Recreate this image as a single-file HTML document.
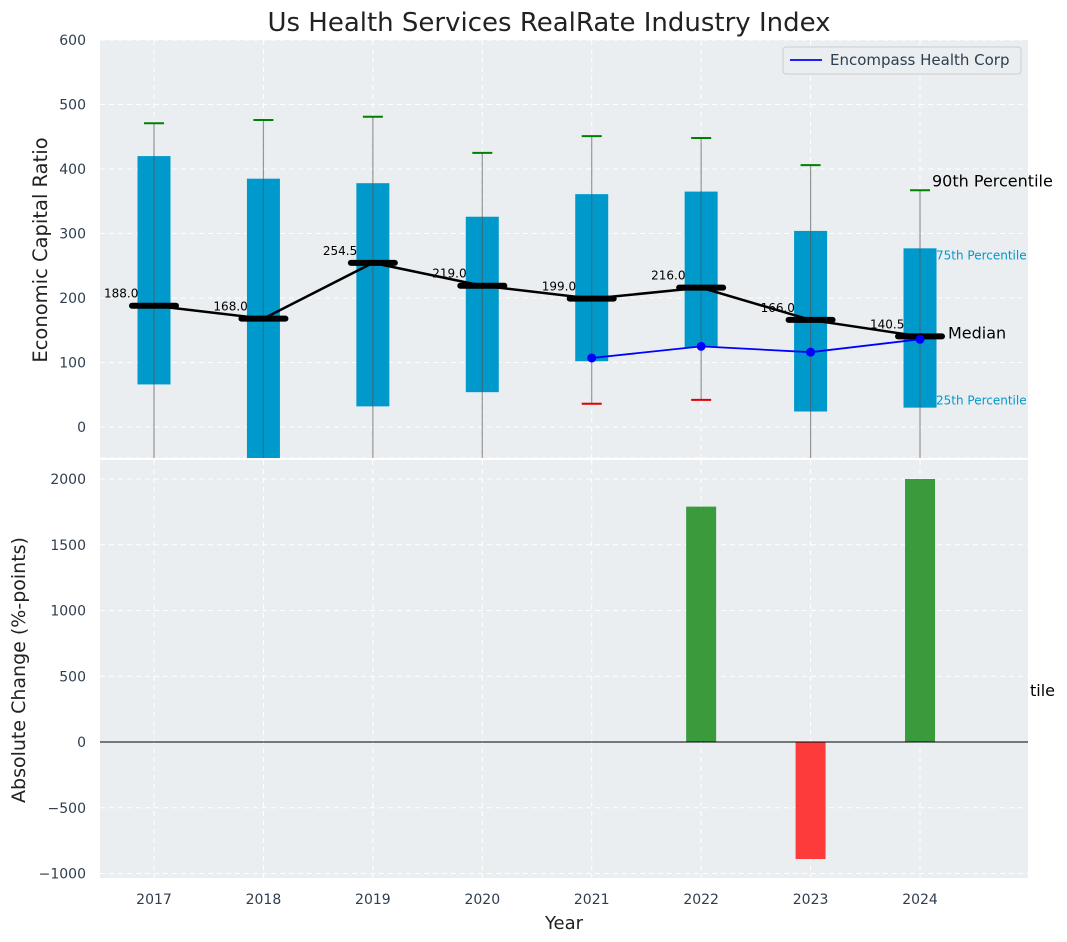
<!DOCTYPE html>
<html><head><meta charset="utf-8"><style>
body{margin:0;background:#fff;}
svg{display:block;font-family:"DejaVu Sans","Liberation Sans",sans-serif;}
</style></head><body>
<svg id="chart" width="1067" height="942" viewBox="0 0 1067 942" xmlns="http://www.w3.org/2000/svg"></svg>
<script>
const years=[2017,2018,2019,2020,2021,2022,2023,2024];
const p90=[471,476,481,425,451,448,406,367];
const p75=[420,385,378,326,361,365,304,277];
const medians=[188,168,254.5,219,199,216,166,140.5];
const p25=[66,-60,32,54,102,124,24,30];
const p10=[-100,-100,-100,-100,36,42,-100,-100];
const companyYears=[2021,2022,2023,2024];
const companyVals=[107,125,116,136];
const changeYears=[2022,2023,2024];
const changeVals=[1790,-890,2000];
const topTicks=[0,100,200,300,400,500,600];
const botTicks=[-1000,-500,0,500,1000,1500,2000];

const svg=document.getElementById('chart');
const NS='http://www.w3.org/2000/svg';
function el(tag,attrs,parent){const e=document.createElementNS(NS,tag);for(const k in attrs)e.setAttribute(k,attrs[k]);(parent||svg).appendChild(e);return e;}
const L=100,R=1028;
const x=v=>154+(v-2017)*109.43;
const yT=v=>427-v*0.645;
const yB=v=>742-v*0.1315;
const TOP0=40,TOP1=458,BOT0=460,BOT1=878;

let b=el('rect',{x:L,y:TOP0,width:R-L,height:TOP1-TOP0,fill:'#eaeef0'});

b=el('rect',{x:L,y:BOT0,width:R-L,height:BOT1-BOT0,fill:'#eaeef0'});


const defs=el('defs',{});
const c1=el('clipPath',{id:'ct'},defs);el('rect',{x:L,y:TOP0,width:R-L,height:TOP1-TOP0},c1);
const c2=el('clipPath',{id:'cb'},defs);el('rect',{x:L,y:BOT0,width:R-L,height:BOT1-BOT0},c2);
const gt=el('g',{'clip-path':'url(#ct)'});
const gb=el('g',{'clip-path':'url(#cb)'});

topTicks.forEach(t=>{el('line',{x1:L,x2:R,y1:yT(t),y2:yT(t),stroke:'#fff','stroke-dasharray':'5,4','stroke-width':1},gt);
 const tx=el('text',{x:L-14,y:yT(t)+5,'text-anchor':'end','font-size':14,fill:'#2f3e4e'});tx.textContent=t;
 });
el('line',{x1:L,x2:R,y1:yT(-48),y2:yT(-48),stroke:'#fff','stroke-dasharray':'5,4'},gt);
botTicks.forEach(t=>{el('line',{x1:L,x2:R,y1:yB(t),y2:yB(t),stroke:'#fff','stroke-dasharray':'5,4'},gb);
 const tx=el('text',{x:L-14,y:yB(t)+5,'text-anchor':'end','font-size':14,fill:'#2f3e4e'});tx.textContent=(t<0?'\u2212'+(-t):t);
 });
years.forEach(yr=>{
 el('line',{x1:x(yr),x2:x(yr),y1:TOP0,y2:TOP1,stroke:'#fff','stroke-dasharray':'5,4'},gt);
 el('line',{x1:x(yr),x2:x(yr),y1:BOT0,y2:BOT1,stroke:'#fff','stroke-dasharray':'5,4'},gb);
 const tx=el('text',{x:x(yr),y:904,'text-anchor':'middle','font-size':14,fill:'#2f3e4e'});tx.textContent=yr;
 
});

years.forEach((yr,i)=>{
 const cx=x(yr),w=33;
 const r=el('rect',{x:cx-w/2,y:yT(p75[i]),width:w,height:yT(p25[i])-yT(p75[i]),fill:'#0099cc'},gt);
 
 const wl=el('line',{x1:cx,x2:cx,y1:yT(p90[i]),y2:yT(p10[i]),stroke:'#555','stroke-opacity':0.6,'stroke-width':1.2},gt);
 
 const c90=el('line',{x1:cx-10,x2:cx+10,y1:yT(p90[i]),y2:yT(p90[i]),stroke:'#008000','stroke-width':2},gt);
 
 const c10=el('line',{x1:cx-10,x2:cx+10,y1:yT(p10[i]),y2:yT(p10[i]),stroke:'#e00000','stroke-width':2},gt);
 
});
const mp=el('polyline',{points:years.map((yr,i)=>x(yr)+','+yT(medians[i])).join(' '),fill:'none',stroke:'#000','stroke-width':2.5},gt);

years.forEach((yr,i)=>{
 const m=el('line',{x1:x(yr)-22,x2:x(yr)+22,y1:yT(medians[i]),y2:yT(medians[i]),stroke:'#000','stroke-width':6,'stroke-linecap':'round'},gt);
 
 const t=el('text',{x:x(yr)-50,y:yT(medians[i])-8,'font-size':12,fill:'#000'});t.textContent=medians[i].toFixed(1);
 
});
const cp=el('polyline',{points:companyYears.map((yr,i)=>x(yr)+','+yT(companyVals[i])).join(' '),fill:'none',stroke:'#0000ff','stroke-width':1.8},gt);

companyYears.forEach((yr,i)=>{const c=el('circle',{cx:x(yr),cy:yT(companyVals[i]),r:4.5,fill:'#0000ff'},gt);
 });

const last=years.length-1,lx=x(years[last]);
let a=el('text',{x:lx+12,y:yT(p90[last])-4,'font-size':16,fill:'#000'});a.textContent='90th Percentile';
a=el('text',{x:lx+16,y:yT(p75[last])+11,'font-size':12,fill:'#0099cc'});a.textContent='75th Percentile';
a=el('text',{x:lx+28,y:yT(medians[last])+2,'font-size':16,fill:'#000'});a.textContent='Median';
a=el('text',{x:lx+16,y:yT(p25[last])-3,'font-size':12,fill:'#0099cc'});a.textContent='25th Percentile';
a=el('text',{x:1030,y:696,'font-size':16,fill:'#000'});a.textContent='tile';

changeYears.forEach((yr,i)=>{const v=changeVals[i];
 const r=el('rect',{x:x(yr)-15,y:Math.min(yB(v),yB(0)),width:30,height:Math.abs(yB(v)-yB(0)),fill:v>=0?'#3a9b3d':'#fd3b3b'},gb);
 });
el('line',{x1:L,x2:R,y1:yB(0),y2:yB(0),stroke:'#000','stroke-width':1},gb);

const lg=el('g',{});
el('rect',{x:783,y:47,width:238,height:27,rx:3,fill:'#eaeef0',stroke:'#ccc'},lg);
el('line',{x1:790,x2:822,y1:60,y2:60,stroke:'#0000ff','stroke-width':1.8},lg);
let t=el('text',{x:830,y:65,'font-size':15,fill:'#2f3e4e'},lg);t.textContent='Encompass Health Corp';

t=el('text',{x:549,y:31,'text-anchor':'middle','font-size':26,fill:'#222'});t.textContent='Us Health Services RealRate Industry Index';
t=el('text',{x:47,y:250,'text-anchor':'middle','font-size':19.5,fill:'#222',transform:'rotate(-90 47 250)'});t.textContent='Economic Capital Ratio';
t=el('text',{x:25,y:670,'text-anchor':'middle','font-size':19,fill:'#222',transform:'rotate(-90 25 670)'});t.textContent='Absolute Change (%-points)';
t=el('text',{x:564,y:929,'text-anchor':'middle','font-size':18,fill:'#222'});t.textContent='Year';
</script>
</body></html>
